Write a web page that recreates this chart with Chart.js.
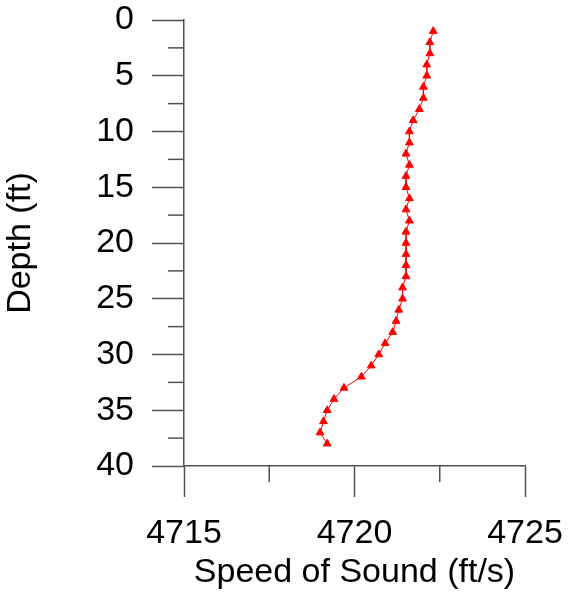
<!DOCTYPE html>
<html>
<head>
<meta charset="utf-8">
<script src="https://cdn.jsdelivr.net/npm/chart.js@4"></script>
<style>
html,body{margin:0;padding:0;background:#fff;}
#wrap{width:569px;height:593px;}
</style>
</head>
<body>
<div id="wrap"><canvas id="c" width="569" height="593"></canvas></div>
<script>
const depths = [1,2,3,4,5,6,7,8,9,10,11,12,13,14,15,16,17,18,19,20,21,22,23,24,25,26,27,28,29,30,31,32,33,34,35,36,37,38];
const speeds = [4722.31,4722.21,4722.21,4722.12,4722.12,4722.02,4722.02,4721.90,4721.72,4721.61,
                4721.61,4721.51,4721.61,4721.51,4721.51,4721.61,4721.51,4721.61,4721.51,4721.51,
                4721.51,4721.51,4721.51,4721.41,4721.41,4721.30,4721.22,4721.12,4720.90,4720.71,
                4720.49,4720.20,4719.69,4719.40,4719.20,4719.09,4718.99,4719.20];
const xMin = 4715, xMax = 4725, xStep = 2.5;
const yMin = 0, yMax = 40, yStep = 2.5;
const xTitle = 'Speed of Sound (ft/s)';
const yTitle = 'Depth (ft)';

const FONT = 'Liberation Sans, Arial, sans-serif';
const AXC = '#505050';
const isMajor = v => Math.abs(v/5 - Math.round(v/5)) < 1e-6;

const minorTicks = {
  id: 'minorTicks',
  afterDraw(chart) {
    const ctx = chart.ctx;
    const xs = chart.scales.x, ys = chart.scales.y;
    ctx.save();
    ctx.strokeStyle = AXC;
    ctx.lineWidth = 1.5;
    xs.ticks.forEach(t => {
      if (!isMajor(t.value)) {
        const px = xs.getPixelForValue(t.value);
        ctx.beginPath(); ctx.moveTo(px, chart.chartArea.bottom); ctx.lineTo(px, chart.chartArea.bottom + 16); ctx.stroke();
      }
    });
    ys.ticks.forEach(t => {
      if (!isMajor(t.value)) {
        const py = ys.getPixelForValue(t.value);
        ctx.beginPath(); ctx.moveTo(chart.chartArea.left, py); ctx.lineTo(chart.chartArea.left - 16, py); ctx.stroke();
      }
    });
    ctx.restore();
  }
};

new Chart(document.getElementById('c'), {
  type: 'scatter',
  data: {
    datasets: [{
      data: depths.map((d, i) => ({x: speeds[i], y: d})),
      showLine: true,
      borderColor: '#ff0000',
      backgroundColor: '#ff0000',
      borderWidth: 1,
      pointStyle: 'triangle',
      pointRadius: 4.5,
      pointBorderWidth: 1,
      pointBorderColor: '#ff0000'
    }]
  },
  options: {
    responsive: false,
    animation: false,
    devicePixelRatio: 1,
    layout: { padding: { top: 20, right: 44, left: 0, bottom: 0 } },
    plugins: { legend: { display: false }, tooltip: { enabled: false } },
    scales: {
      x: {
        type: 'linear', position: 'bottom', min: xMin, max: xMax,
        afterBuildTicks: s => { s.ticks = []; for (let v = xMin; v <= xMax + 1e-9; v += xStep) s.ticks.push({value: v}); },
        ticks: {
          autoSkip: false, maxRotation: 0, padding: 16,
          font: { family: FONT, size: 34 }, color: '#000',
          callback: v => isMajor(v) ? String(v) : ''
        },
        grid: {
          drawOnChartArea: false, tickLength: 31, tickWidth: 1.5,
          tickColor: c => isMajor(c.tick.value) ? AXC : 'rgba(0,0,0,0)'
        },
        border: { display: true, color: AXC, width: 1.5 },
        title: { display: true, text: xTitle, font: { family: FONT, size: 34 }, color: '#000', padding: { top: 0, bottom: 0 } },
        afterFit: s => { s.height = 127; s.paddingLeft = 0; s.paddingRight = 0; }
      },
      y: {
        type: 'linear', reverse: true, min: yMin, max: yMax,
        afterBuildTicks: s => { s.ticks = []; for (let v = yMin; v <= yMax + 1e-9; v += yStep) s.ticks.push({value: v}); },
        ticks: {
          autoSkip: false, padding: 18,
          font: { family: FONT, size: 34 }, color: '#000',
          callback: v => isMajor(v) ? String(v) : ''
        },
        grid: {
          drawOnChartArea: false, tickLength: 32, tickWidth: 1.5,
          tickColor: c => isMajor(c.tick.value) ? AXC : 'rgba(0,0,0,0)'
        },
        border: { display: true, color: AXC, width: 1.5 },
        title: { display: true, text: yTitle, font: { family: FONT, size: 34 }, color: '#000', padding: { top: 0, bottom: 0 } },
        afterFit: s => { s.width = 184; s.paddingTop = 0; s.paddingBottom = 0; }
      }
    }
  },
  plugins: [minorTicks]
});
</script>
</body>
</html>
